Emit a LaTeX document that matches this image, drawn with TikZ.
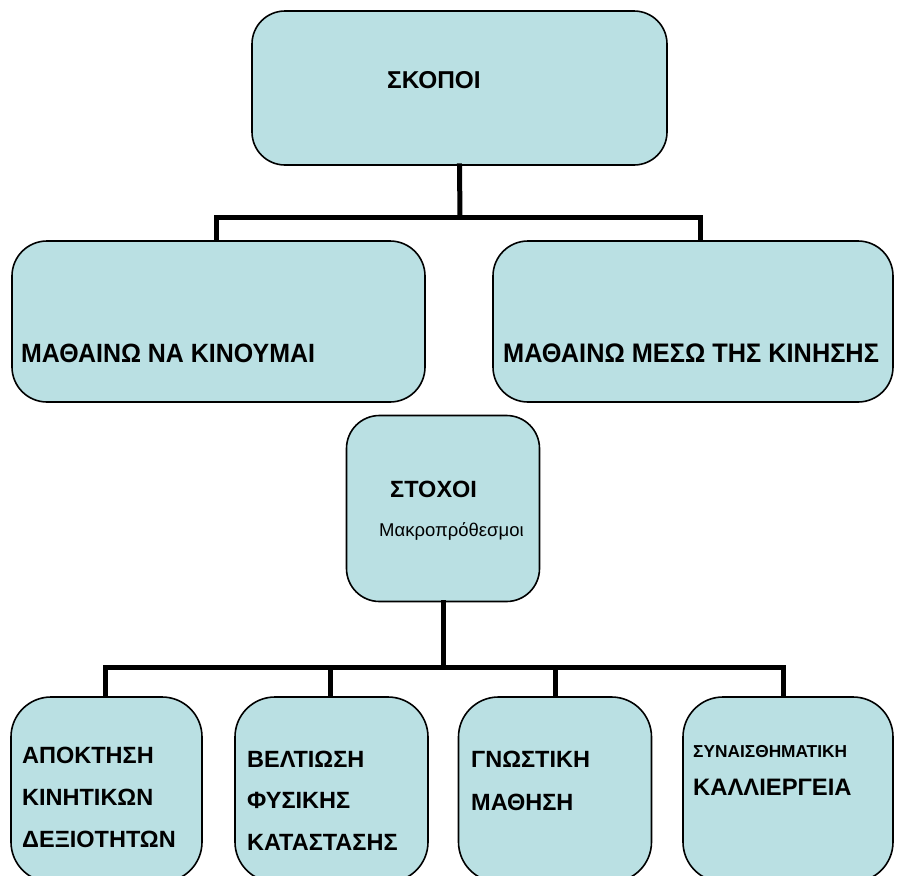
\documentclass[tikz,border=0pt]{standalone}
\usepackage{fontspec}
\setmainfont{Liberation Sans}
\newfontfamily\condfont[FakeStretch=0.945]{Liberation Sans}
\definecolor{boxfill}{RGB}{186,224,227}
\tikzset{
  box/.style={draw=black, line width=1.6pt, fill=boxfill, rounded corners=#1, inner sep=0pt},
  conn/.style={draw=black, line width=5pt, line cap=rect},
  lbl/.style={anchor=base west, inner sep=0pt, font=\fontsize{#1}{#1}\selectfont\bfseries},
  condlbl/.style={anchor=base west, inner sep=0pt, font=\condfont\fontsize{#1}{#1}\selectfont\bfseries},
  small/.style={anchor=base west, inner sep=0pt, font=\fontsize{18.5}{20}\selectfont},
}
\begin{document}
\begin{tikzpicture}[x=1pt,y=-1pt]
\useasboundingbox (0,0) rectangle (898,876);
\begin{scope}
\clip (0,0) rectangle (898,876);
% top
\node[box=33pt, minimum width=415pt, minimum height=154pt] (skopoi) at (459.5,88) {};
\node[lbl=24.4] (tskopoi) at (387,88) {ΣΚΟΠΟΙ};
% middle
\node[box=35pt, minimum width=413pt, minimum height=161pt] (ml) at (218.5,321.5) {};
\node[box=35pt, minimum width=400pt, minimum height=161pt] (mr) at (693,321.5) {};
\node[condlbl=26.4] (tml) at (21,362) {ΜΑΘΑΙΝΩ ΝΑ ΚΙΝΟΥΜΑΙ};
\node[condlbl=26.8] (tmr) at (503,362) {ΜΑΘΑΙΝΩ ΜΕΣΩ ΤΗΣ ΚΙΝΗΣΗΣ};
% stoxoi
\node[box=33pt, minimum width=193pt, minimum height=186pt] (stoxoi) at (443,508.5) {};
\node[lbl=23.5] (tstoxoi) at (390,497) {ΣΤΟΧΟΙ};
\node[small] (tmakro) at (379,536) {Μακροπρόθεσμοι};
% bottom
\node[box=40pt, minimum width=191pt, minimum height=185pt] (b1) at (106.5,789.5) {};
\node[box=40pt, minimum width=193pt, minimum height=185pt] (b2) at (331.5,789.5) {};
\node[box=40pt, minimum width=193pt, minimum height=185pt] (b3) at (555,789.5) {};
\node[box=40pt, minimum width=210pt, minimum height=185pt] (b4) at (788,789.5) {};
\node[lbl=23.5] (t11) at (22,763) {ΑΠΟΚΤΗΣΗ};
\node[lbl=23.5] (t12) at (22,805) {ΚΙΝΗΤΙΚΩΝ};
\node[lbl=23.5] (t13) at (22,847) {ΔΕΞΙΟΤΗΤΩΝ};
\node[lbl=23.5] (t21) at (247,767) {ΒΕΛΤΙΩΣΗ};
\node[lbl=23.5] (t22) at (247,808) {ΦΥΣΙΚΗΣ};
\node[lbl=23.5] (t23) at (247,850) {ΚΑΤΑΣΤΑΣΗΣ};
\node[lbl=23.5] (t31) at (471,767) {ΓΝΩΣΤΙΚΗ};
\node[lbl=23.5] (t32) at (471,810) {ΜΑΘΗΣΗ};
\node[lbl=17.3] (t41) at (693,757) {ΣΥΝΑΙΣΘΗΜΑΤΙΚΗ};
\node[lbl=23.8] (t42) at (693,795) {ΚΑΛΛΙΕΡΓΕΙΑ};
\end{scope}
% connectors
\coordinate (j1) at (460,217);
\coordinate (cl) at (216,241);
\coordinate (cr) at (700,241);
\draw[conn] (skopoi.south) -- (j1);
\draw[conn, line cap=butt] (cl) |- (j1) -| (cr);
\coordinate (j2) at (443,667);
\coordinate (d1) at (105,697);
\coordinate (d2) at (330,697);
\coordinate (d3) at (555,697);
\coordinate (d4) at (783,697);
\draw[conn] (stoxoi.south) -- (j2);
\draw[conn, line cap=butt] (d1) |- (j2) -| (d4);
\draw[conn, line cap=butt] (d2) -- (d2 |- j2);
\draw[conn, line cap=butt] (d3) -- (d3 |- j2);
\end{tikzpicture}
\end{document}
